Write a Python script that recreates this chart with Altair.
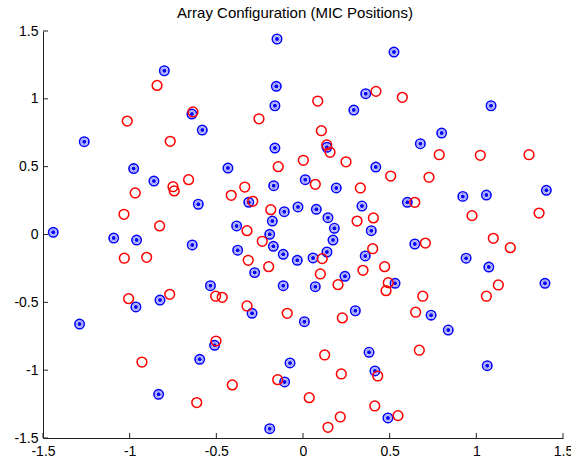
import altair as alt
import pandas as pd

# Blue microphones (x, y)
blue_x = [-0.800, -0.641, -0.581, -1.262, -0.977, -0.150, -0.154, -0.162, 0.362, 0.293,
          -0.162, 0.138, -0.433, 0.420, 0.525, 1.085, 0.800, 0.677, -0.860, -0.604,
          -1.441, -1.092, -0.960, -0.639, -0.534, -0.825, -0.964, -0.169, 0.013, 0.192,
          -0.313, 0.340, -0.108, -0.029, 0.077, 0.144, -0.177, -0.383, 0.181, 0.394,
          -0.192, 0.173, -0.171, -0.377, 0.138, -0.114, -0.033, 0.058, 0.359, -0.279,
          0.242, -0.114, 0.071, 0.922, 1.058, 1.404, 0.602, 0.645, 0.941, 1.072,
          0.531, 1.396, -1.289, -0.596, -0.833, -0.294, 0.008, 0.302, -0.510, 0.381,
          -0.075, 0.415, -0.106, -0.192, 0.739, 0.838, 1.063, 0.490]
blue_y = [1.207, 0.888, 0.770, 0.684, 0.486, 1.441, 1.092, 0.949, 1.038, 0.917,
          0.637, 0.643, 0.490, 0.497, 1.345, 0.949, 0.748, 0.669, 0.394, 0.223,
          0.016, -0.026, -0.041, -0.077, -0.377, -0.483, -0.534, 0.360, 0.404, 0.343,
          0.237, 0.210, 0.168, 0.203, 0.186, 0.124, 0.099, 0.063, 0.046, 0.028,
          0.001, -0.041, -0.087, -0.116, -0.129, -0.146, -0.190, -0.173, -0.158, -0.281,
          -0.308, -0.377, -0.385, 0.281, 0.291, 0.326, 0.237, -0.070, -0.175, -0.240,
          -0.360, -0.360, -0.660, -0.920, -1.178, -0.581, -0.643, -0.562, -0.817, -0.868,
          -0.947, -1.006, -1.087, -1.431, -0.595, -0.704, -0.967, -1.352]

# Red microphones (x, y)
red_x = [-0.842, -0.635, -1.014, -0.766, 0.085, 0.421, -0.254, 0.106, 0.137, 0.156,
         0.002, 0.248, -0.143, 0.573, 0.786, 1.023, 1.304, -0.660, -0.750, -0.743,
         -0.968, -1.033, -0.827, -1.031, -0.902, -1.006, -0.769, 0.071, -0.336, -0.414,
         0.331, -0.290, -0.186, 0.406, 0.312, -0.323, -0.235, 0.402, 0.111, -0.316,
         -0.198, 0.100, 0.346, 0.202, -0.504, -0.466, -0.323, 0.506, 0.727, 0.645,
         0.975, 1.362, 0.706, 1.098, 1.196, 0.471, 0.492, 0.479, 1.127, 0.691,
         1.058, -0.929, -0.613, -0.091, 0.227, -0.502, 0.125, 0.221, 0.431, -0.146,
         -0.408, 0.036, 0.414, 0.215, 0.144, 0.650, 0.671, 0.548]
red_y = [1.099, 0.903, 0.836, 0.687, 0.984, 1.055, 0.853, 0.765, 0.660, 0.606,
         0.547, 0.536, 0.500, 1.011, 0.588, 0.584, 0.588, 0.404, 0.352, 0.321,
         0.306, 0.149, 0.063, -0.175, -0.168, -0.473, -0.441, 0.370, 0.350, 0.289,
         0.343, 0.245, 0.183, 0.122, 0.099, 0.028, -0.050, -0.105, -0.178, -0.190,
         -0.237, -0.291, -0.264, -0.370, -0.455, -0.463, -0.527, 0.431, 0.422, 0.237,
         0.139, 0.158, -0.063, -0.028, -0.097, -0.237, -0.355, -0.414, -0.372, -0.455,
         -0.455, -0.940, -1.239, -0.581, -0.615, -0.785, -0.888, -1.028, -1.043, -1.070,
         -1.109, -1.203, -1.264, -1.345, -1.421, -0.573, -0.853, -1.335]

tick_values = [-1.5, -1, -0.5, 0, 0.5, 1, 1.5]
title_text = "Array Configuration (MIC Positions)"

blue = pd.DataFrame({"x": blue_x, "y": blue_y})
red = pd.DataFrame({"x": red_x, "y": red_y})
ticks = pd.DataFrame({"v": tick_values})

W, H = 520, 407
FONT = "Liberation Sans"
AXC = "#222222"
FS = 14

xs = alt.Scale(domain=[-1.5, 1.5], nice=False, zero=False)
ys = alt.Scale(domain=[-1.5, 1.5], nice=False, zero=False)

x_axis = alt.Axis(values=tick_values, labelExpr="toString(datum.value)", grid=False,
                  ticks=False, tickSize=0, domainColor=AXC, domainWidth=1,
                  labelFont=FONT, labelFontSize=FS, labelColor="#000000",
                  labelPadding=6, title=None, labelFlush=False, labelOverlap=False)
y_axis = alt.Axis(values=tick_values, labelExpr="toString(datum.value)", grid=False,
                  ticks=False, tickSize=0, domainColor=AXC, domainWidth=1,
                  labelFont=FONT, labelFontSize=FS, labelColor="#000000",
                  labelPadding=5, title=None, labelFlush=False, labelOverlap=False)

X = alt.X("x:Q", scale=xs, axis=x_axis)
Y = alt.Y("y:Q", scale=ys, axis=y_axis)

blue_ring = alt.Chart(blue).mark_point(shape="circle", filled=False, color="#0000ff",
                                       strokeWidth=1.6, size=88, opacity=1).encode(x=X, y=Y)
blue_inner = alt.Chart(blue).mark_point(shape="circle", filled=False, color="#9a9aff",
                                        strokeWidth=1.2, size=38, opacity=1).encode(x=X, y=Y)
blue_dot = alt.Chart(blue).mark_point(shape="circle", filled=True, color="#0000ff",
                                      size=16, opacity=1).encode(x=X, y=Y)
red_ring = alt.Chart(red).mark_point(shape="circle", filled=False, color="#ff0000",
                                     strokeWidth=1.5, size=95, opacity=1).encode(x=X, y=Y)

xticks = alt.Chart(ticks).mark_rule(color=AXC, strokeWidth=1).encode(
    x=alt.X("v:Q", scale=xs, axis=x_axis),
    y=alt.value(H), y2=alt.value(H - 5))
yticks = alt.Chart(ticks).mark_rule(color=AXC, strokeWidth=1).encode(
    y=alt.Y("v:Q", scale=ys, axis=y_axis),
    x=alt.value(0), x2=alt.value(5))

chart = alt.layer(xticks, yticks, blue_ring, blue_inner, blue_dot, red_ring).properties(
    width=W, height=H,
    title=alt.TitleParams(title_text, font=FONT, fontSize=15, fontWeight="normal",
                          color="#000000", anchor="middle", offset=3, dx=-8),
    autosize=alt.AutoSizeParams(type="none"),
    padding={"left": 43, "top": 31, "right": 8, "bottom": 26},
    background="white",
).configure_view(stroke=None)

chart.save("out.html", embed_options={"renderer": "svg", "actions": False})
